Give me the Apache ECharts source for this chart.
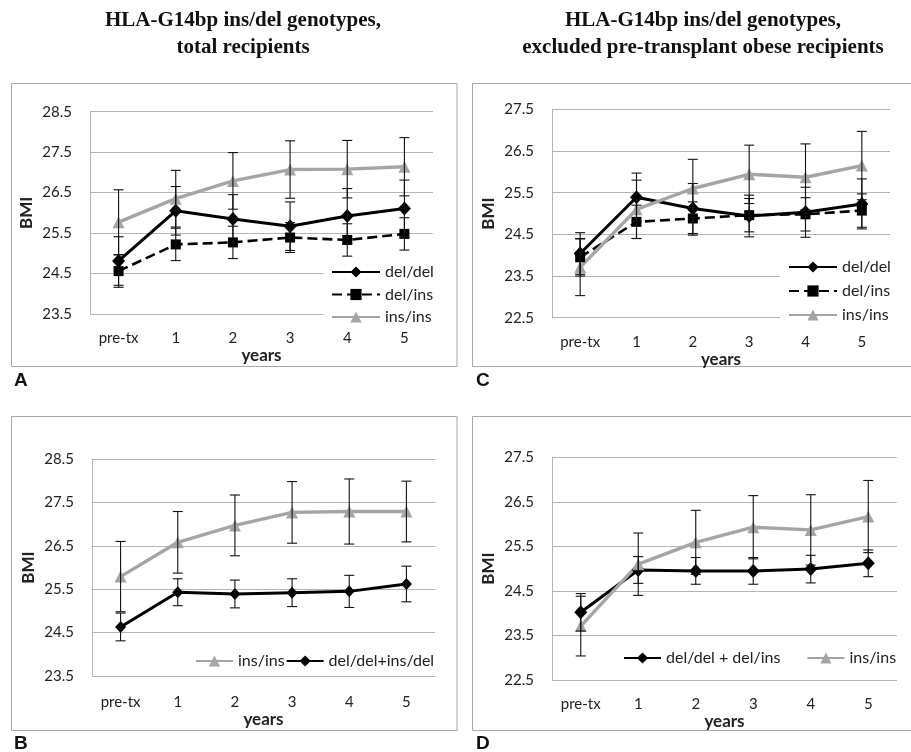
<!DOCTYPE html>
<html>
<head>
<meta charset="utf-8">
<script src="https://cdn.jsdelivr.net/npm/echarts@6/dist/echarts.min.js"></script>
<style>html,body{margin:0;padding:0;background:#fff;}#c{width:911px;height:752px;}</style>
</head>
<body>
<div id="c"></div>
<script>
// ---------- data ----------
var categories = ['pre-tx', '1', '2', '3', '4', '5'];

// Panel A: total recipients
var aDelDel    = [24.81, 26.05, 25.85, 25.67, 25.92, 26.11];
var aDelDelErr = [0.60, 0.60, 0.60, 0.60, 0.68, 0.70];
var aDelIns    = [24.56, 25.22, 25.27, 25.39, 25.33, 25.48];
var aDelInsErr = [0.40, 0.40, 0.40, 0.37, 0.40, 0.40];
var aInsIns    = [25.77, 26.35, 26.79, 27.07, 27.08, 27.14];
var aInsInsErr = [0.80, 0.70, 0.70, 0.71, 0.71, 0.72];

// Panel C: excluded pre-transplant obese recipients
var cDelDel    = [24.04, 25.39, 25.12, 24.94, 25.03, 25.23];
var cDelDelErr = [0.50, 0.58, 0.60, 0.50, 0.60, 0.60];
var cDelIns    = [23.95, 24.80, 24.88, 24.96, 24.98, 25.07];
var cDelInsErr = [0.45, 0.40, 0.40, 0.40, 0.40, 0.40];
var cInsIns    = [23.71, 25.10, 25.60, 25.94, 25.87, 26.15];
var cInsInsErr = [0.68, 0.70, 0.70, 0.70, 0.80, 0.82];

// Panel B: total recipients, combined
var bInsIns    = [25.79, 26.58, 26.97, 27.27, 27.29, 27.29];
var bInsInsErr = [0.81, 0.71, 0.70, 0.71, 0.75, 0.70];
var bDelComb    = [24.63, 25.43, 25.39, 25.42, 25.45, 25.62];
var bDelCombErr = [0.32, 0.31, 0.32, 0.32, 0.37, 0.41];

// Panel D: excluded obese, combined
var dDelComb    = [24.02, 24.97, 24.95, 24.95, 24.99, 25.12];
var dDelCombErr = [0.42, 0.30, 0.30, 0.30, 0.31, 0.30];
var dInsIns    = [23.71, 25.10, 25.59, 25.93, 25.87, 26.17];
var dInsInsErr = [0.67, 0.70, 0.72, 0.71, 0.79, 0.81];

var yTicksAB = {min: 23.5, max: 28.5, interval: 1};
var yTicksCD = {min: 22.5, max: 27.5, interval: 1};

// ---------- styles ----------
var BLACK = '#000000', GRAY = '#a5a5a5', GRID = '#b4b4b4', TXT = '#222222';
var SANS = 'Lato, "Open Sans", sans-serif';

var chart = echarts.init(document.getElementById('c'), null, {renderer: 'canvas'});

function errData(vals, errs) {
  return vals.map(function (v, i) { return [i, v - errs[i], v + errs[i]]; });
}
function errRender(params, api) {
  var x = api.value(0);
  var lo = api.coord([x, api.value(1)]);
  var hi = api.coord([x, api.value(2)]);
  var hw = 5;
  var st = {stroke: '#111', lineWidth: 1.1};
  return {type: 'group', children: [
    {type: 'line', shape: {x1: hi[0], y1: hi[1], x2: lo[0], y2: lo[1]}, style: st},
    {type: 'line', shape: {x1: hi[0] - hw, y1: hi[1], x2: hi[0] + hw, y2: hi[1]}, style: st},
    {type: 'line', shape: {x1: lo[0] - hw, y1: lo[1], x2: lo[0] + hw, y2: lo[1]}, style: st}
  ]};
}
function errSeries(idx, vals, errs) {
  return {type: 'custom', xAxisIndex: idx, yAxisIndex: idx, renderItem: errRender,
    data: errData(vals, errs), encode: {x: 0, y: [1, 2]}, z: 5, clip: false, silent: true};
}
var styles = {
  delDel: {color: BLACK, symbol: 'diamond', symbolSize: [13, 14], lineStyle: {color: BLACK, width: 3}},
  delIns: {color: BLACK, symbol: 'rect', symbolSize: 10, lineStyle: {color: BLACK, width: 2.6, type: [10, 5]}},
  insIns: {color: GRAY, symbol: 'triangle', symbolSize: 12, lineStyle: {color: GRAY, width: 3.4}}
};
function lineSeries(idx, name, vals, st) {
  return {type: 'line', name: name, xAxisIndex: idx, yAxisIndex: idx, data: vals,
    symbol: st.symbol, symbolSize: st.symbolSize, showSymbol: true,
    itemStyle: {color: st.color}, lineStyle: st.lineStyle, z: 3, animation: false};
}

var grids = [
  {left: 90, right: 478, top: 111.7, height: 202.3},
  {left: 552, right: 21, top: 109.3, height: 208.4},
  {left: 92, right: 476, top: 459, height: 217},
  {left: 552, right: 14, top: 457.3, height: 222.7}
];
var xGaps = [[17, 31], [17, 27], [19, 33], [17, 29]];
var yTicks = [yTicksAB, yTicksCD, yTicksAB, yTicksCD];

var xAxes = grids.map(function (g, i) {
  return {type: 'category', gridIndex: i, data: categories, boundaryGap: true,
    axisLine: {show: false}, axisTick: {show: false},
    axisLabel: {margin: xGaps[i][0], fontFamily: SANS, fontSize: 15, color: TXT},
    name: 'years', nameLocation: 'middle', nameGap: xGaps[i][1],
    nameTextStyle: {fontFamily: SANS, fontWeight: 'bold', fontSize: 17, color: TXT}};
});
var yAxes = grids.map(function (g, i) {
  return {type: 'value', gridIndex: i, min: yTicks[i].min, max: yTicks[i].max, interval: yTicks[i].interval,
    axisLine: {show: true, lineStyle: {color: GRID, width: 1}}, axisTick: {show: false},
    splitLine: {show: true, lineStyle: {color: GRID, width: 1}},
    axisLabel: {margin: 18, fontFamily: SANS, fontSize: 15, color: TXT,
      formatter: function (v) { return v.toFixed(1); }},
    name: 'BMI', nameLocation: 'middle', nameGap: 55,
    nameTextStyle: {fontFamily: SANS, fontWeight: 'bold', fontSize: 17, color: TXT}};
});

var series = [
  lineSeries(0, 'del/del', aDelDel, styles.delDel),
  lineSeries(0, 'del/ins', aDelIns, styles.delIns),
  lineSeries(0, 'ins/ins', aInsIns, styles.insIns),
  errSeries(0, aDelDel, aDelDelErr), errSeries(0, aDelIns, aDelInsErr), errSeries(0, aInsIns, aInsInsErr),

  lineSeries(1, 'del/del', cDelDel, styles.delDel),
  lineSeries(1, 'del/ins', cDelIns, styles.delIns),
  lineSeries(1, 'ins/ins', cInsIns, styles.insIns),
  errSeries(1, cDelDel, cDelDelErr), errSeries(1, cDelIns, cDelInsErr), errSeries(1, cInsIns, cInsInsErr),

  lineSeries(2, 'ins/ins', bInsIns, styles.insIns),
  lineSeries(2, 'del/del+ins/del', bDelComb, {color: BLACK, symbol: 'diamond', symbolSize: [11, 12], lineStyle: {color: BLACK, width: 3}}),
  errSeries(2, bInsIns, bInsInsErr), errSeries(2, bDelComb, bDelCombErr),

  lineSeries(3, 'del/del + del/ins', dDelComb, {color: BLACK, symbol: 'diamond', symbolSize: [13, 14], lineStyle: {color: BLACK, width: 3}}),
  lineSeries(3, 'ins/ins', dInsIns, styles.insIns),
  errSeries(3, dDelComb, dDelCombErr), errSeries(3, dInsIns, dInsInsErr)
];

var legTxt = {fontFamily: SANS, fontSize: 16, color: TXT};
var legends = [
  {data: ['del/del', 'del/ins', 'ins/ins'], orient: 'vertical', left: 323, top: 259,
    itemWidth: 48, itemHeight: 14, itemGap: 6.5, padding: [5, 5, 5, 8]},
  {data: ['del/del', 'del/ins', 'ins/ins'], orient: 'vertical', left: 780, top: 254,
    itemWidth: 48, itemHeight: 14, itemGap: 8, padding: [5, 5, 5, 8]},
  {data: ['ins/ins', 'del/del+ins/del'], orient: 'horizontal', left: 190, top: 648,
    itemWidth: 37, itemHeight: 14, itemGap: 1, padding: [5, 5, 5, 5]},
  {data: ['del/del + del/ins', 'ins/ins'], orient: 'horizontal', left: 618, top: 645,
    itemWidth: 37, itemHeight: 14, itemGap: 26, padding: [5, 5, 5, 5]}
].map(function (l) {
  l.backgroundColor = '#ffffff'; l.textStyle = legTxt; l.selectedMode = false; l.z = 4;
  return l;
});

var boxStyle = {fill: 'none', stroke: '#a8a8a8', lineWidth: 1};
var letterStyle = {fontFamily: '"Liberation Sans", Arial, sans-serif', fontWeight: 'bold', fontSize: 19, fill: '#111'};
var graphics = [
  {type: 'rect', shape: {x: 11.5, y: 83.5, width: 445.5, height: 283}, style: boxStyle, silent: true},
  {type: 'rect', shape: {x: 472.5, y: 83.5, width: 445, height: 283}, style: boxStyle, silent: true},
  {type: 'rect', shape: {x: 11.5, y: 416.5, width: 445.5, height: 314}, style: boxStyle, silent: true},
  {type: 'rect', shape: {x: 472.5, y: 416.5, width: 445, height: 314}, style: boxStyle, silent: true},
  {type: 'text', left: 14, top: 371, style: Object.assign({text: 'A'}, letterStyle)},
  {type: 'text', left: 476, top: 371, style: Object.assign({text: 'C'}, letterStyle)},
  {type: 'text', left: 14, top: 734, style: Object.assign({text: 'B'}, letterStyle)},
  {type: 'text', left: 476, top: 734, style: Object.assign({text: 'D'}, letterStyle)}
];

var titleStyle = {fontFamily: '"Liberation Serif", "Times New Roman", serif', fontWeight: 'bold', fontSize: 21, color: '#111', lineHeight: 27};
var titles = [
  {text: 'HLA-G14bp ins/del genotypes,\ntotal recipients', left: 243, top: 7, textAlign: 'center', textStyle: titleStyle, padding: 0},
  {text: 'HLA-G14bp ins/del genotypes,\nexcluded pre-transplant obese recipients', left: 703, top: 7, textAlign: 'center', textStyle: titleStyle, padding: 0}
];

chart.setOption({
  animation: false,
  backgroundColor: '#ffffff',
  title: titles,
  grid: grids,
  xAxis: xAxes,
  yAxis: yAxes,
  legend: legends,
  series: series,
  graphic: graphics
});
</script>
</body>
</html>
